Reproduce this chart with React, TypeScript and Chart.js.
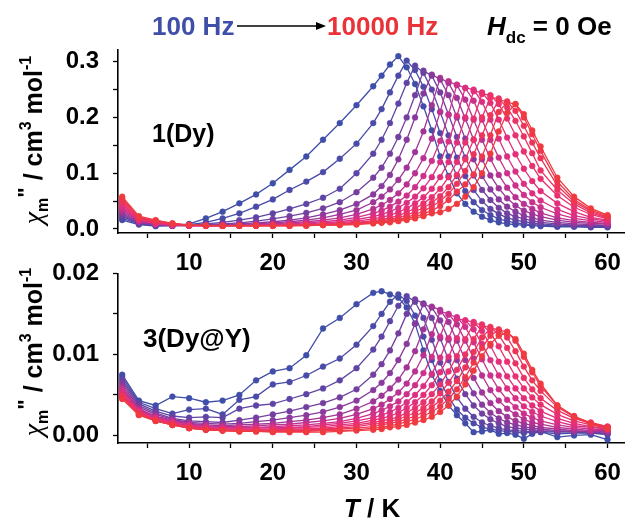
import React, { useEffect, useRef } from "react";
import { Chart, registerables } from "chart.js";

Chart.register(...registerables);

// Temperature grid (K)
const temperatures = [
  2, 4, 6, 8, 10, 12, 14, 16, 18, 20, 22, 24, 26, 28, 30, 32,
  33, 34, 35, 36, 37, 38, 39, 40, 41, 42, 43, 44, 45, 46, 47, 48, 49, 50, 51, 52,
  54, 56, 58, 60,
];

// Tick values
const xTicks = [5, 10, 15, 20, 25, 30, 35, 40, 45, 50, 55, 60];
const topYTicks = [0, 0.05, 0.1, 0.15, 0.2, 0.25, 0.3];
const bottomYTicks = [0, 0.005, 0.01, 0.015, 0.02];

// 1(Dy): chi'' (cm3 mol-1), 100 Hz -> 10000 Hz
const dyF01 = [.016,.008,.005,.006,.009,.019,.031,.046,.062,.082,.106,.13,.16,.19,.222,.256,
  .275,.295,.31,.29,.26,.22,.177,.13,.095,.064,.045,.031,.022,.016,.012,.009,.008,.007,.006,.005,
  .004,.004,.003,.003];
const dyF02 = [.019,.009,.006,.006,.008,.012,.019,.028,.04,.053,.07,.085,.102,.126,.153,.19,
  .215,.245,.275,.302,.285,.255,.215,.172,.13,.095,.068,.048,.034,.025,.018,.014,.011,.009,.008,.007,
  .005,.005,.004,.004];
const dyF03 = [.022,.01,.007,.006,.007,.009,.012,.016,.021,.028,.036,.045,.056,.072,.1,.135,
  .16,.19,.225,.262,.293,.28,.25,.21,.168,.128,.095,.07,.05,.036,.027,.02,.016,.013,.011,.009,
  .007,.006,.005,.005];
const dyF04 = [.025,.011,.007,.006,.007,.008,.009,.011,.014,.018,.023,.029,.037,.048,.066,.092,
  .11,.135,.165,.2,.24,.284,.275,.245,.205,.165,.128,.096,.07,.052,.038,.028,.022,.018,.015,.012,
  .009,.007,.006,.006];
const dyF05 = [.028,.012,.008,.006,.006,.007,.008,.009,.011,.013,.016,.02,.026,.034,.045,.062,
  .077,.097,.125,.16,.2,.243,.277,.268,.24,.2,.162,.125,.095,.071,.053,.04,.031,.024,.02,.016,
  .012,.009,.008,.007];
const dyF06 = [.031,.013,.008,.006,.006,.006,.007,.008,.009,.011,.013,.016,.02,.026,.034,.048,
  .058,.071,.088,.11,.138,.175,.222,.271,.262,.235,.198,.16,.125,.096,.073,.055,.042,.033,.027,.022,
  .016,.012,.01,.009];
const dyF07 = [.034,.014,.009,.007,.006,.006,.006,.007,.008,.009,.011,.013,.016,.02,.026,.036,
  .043,.052,.064,.08,.1,.127,.162,.21,.265,.258,.232,.196,.16,.126,.097,.074,.057,.045,.036,.029,
  .02,.015,.012,.01];
const dyF08 = [.037,.015,.009,.007,.006,.006,.006,.006,.007,.008,.009,.011,.013,.016,.021,.028,
  .033,.04,.049,.06,.075,.095,.122,.158,.205,.259,.253,.23,.196,.16,.128,.1,.078,.061,.048,.039,
  .027,.019,.015,.012];
const dyF09 = [.04,.016,.01,.007,.006,.006,.006,.006,.006,.007,.008,.009,.011,.013,.017,.022,
  .026,.031,.038,.047,.058,.073,.093,.12,.157,.203,.253,.25,.228,.196,.162,.13,.103,.081,.064,.051,
  .035,.024,.018,.014];
const dyF10 = [.043,.017,.011,.008,.006,.006,.006,.006,.006,.007,.007,.008,.009,.011,.014,.018,
  .021,.025,.03,.037,.046,.057,.072,.093,.12,.155,.2,.247,.245,.226,.196,.164,.134,.108,.086,.068,
  .046,.031,.021,.016];
const dyF11 = [.046,.018,.012,.008,.007,.006,.006,.006,.006,.006,.007,.007,.008,.01,.012,.015,
  .017,.02,.024,.03,.037,.046,.057,.072,.093,.12,.155,.198,.242,.24,.224,.198,.168,.139,.113,.09,
  .06,.039,.026,.018];
const dyF12 = [.049,.019,.013,.009,.007,.006,.006,.006,.006,.006,.006,.007,.008,.009,.011,.013,
  .015,.017,.02,.025,.031,.038,.047,.059,.075,.097,.125,.16,.2,.236,.234,.218,.194,.166,.136,.105,
  .07,.045,.029,.02];
const dyF13 = [.052,.02,.014,.009,.007,.006,.006,.006,.006,.006,.006,.007,.007,.008,.01,.012,
  .013,.015,.017,.021,.026,.032,.04,.05,.063,.081,.104,.134,.168,.204,.231,.229,.212,.185,.155,.127,
  .078,.049,.032,.021];
const dyF14 = [.055,.021,.015,.01,.007,.006,.006,.006,.006,.006,.006,.006,.007,.008,.009,.011,
  .012,.014,.016,.019,.022,.027,.033,.041,.052,.067,.08,.098,.13,.168,.21,.227,.224,.2,.17,.14,
  .085,.053,.034,.023];
const dyF15 = [.058,.023,.016,.01,.007,.006,.006,.006,.006,.006,.006,.006,.007,.007,.008,.01,
  .011,.012,.014,.016,.019,.023,.028,.03,.036,.045,.058,.075,.1,.135,.175,.208,.224,.206,.177,.148,
  .092,.058,.037,.025];

// 3(Dy@Y): chi'' (cm3 mol-1), 100 Hz -> 10000 Hz
const dyyF01 = [.0075,.0043,.0037,.0048,.0046,.0041,.0043,.005,.0068,.0079,.0083,.0099,.0132,.0145,.0162,.0176,
  .0178,.0174,.017,.0158,.0138,.0105,.0075,.0055,.0037,.0025,.0015,.0004,.0005,.0007,.0002,.0003,.0001,-.0004,.0002,.0005,
  -.0002,0,.0001,-.0005];
const dyyF02 = [.0072,.0041,.0033,.0027,.0032,.0033,.0026,.0044,.0048,.0063,.0066,.0074,.0085,.0095,.0112,.0135,
  .015,.0165,.0174,.0166,.0148,.0122,.0093,.0067,.0047,.0032,.0022,.0015,.001,.0008,.0006,.0005,.0004,.0003,.0004,.0004,
  .0002,.0003,.0003,.0001];
const dyyF03 = [.0069,.0039,.003,.0024,.0022,.0023,.0022,.0033,.0037,.0039,.0045,.0051,.0058,.0068,.0083,.0106,
  .0122,.0141,.016,.0172,.0165,.0145,.0118,.009,.0066,.0047,.0033,.0023,.0016,.0012,.0009,.0007,.0006,.0005,.0005,.0005,
  .0004,.0004,.0003,.0002];
const dyyF04 = [.0066,.0037,.0028,.0021,.0018,.0017,.0016,.0019,.0022,.0026,.003,.0035,.004,.0047,.0057,.0075,
  .0088,.0105,.0126,.015,.0168,.0163,.0145,.012,.0093,.007,.0051,.0037,.0027,.002,.0015,.0011,.0009,.0008,.0007,.0006,
  .0005,.0005,.0004,.0003];
const dyyF05 = [.0063,.0035,.0026,.002,.0016,.0015,.0014,.0015,.0017,.0019,.0022,.0025,.0029,.0035,.0043,.0056,
  .0065,.0077,.0093,.0113,.0138,.0162,.0158,.0142,.0118,.0093,.007,.0052,.0038,.0028,.0021,.0016,.0013,.0011,.0009,.0008,
  .0006,.0005,.0005,.0004];
const dyyF06 = [.006,.0033,.0024,.0019,.0015,.0013,.0012,.0013,.0014,.0015,.0017,.0019,.0022,.0026,.0033,.0042,
  .0049,.0058,.0069,.0084,.0104,.0131,.0159,.0155,.014,.0117,.0093,.0071,.0053,.004,.003,.0023,.0018,.0015,.0012,.001,
  .0008,.0006,.0005,.0005];
const dyyF07 = [.0058,.0032,.0023,.0018,.0014,.0012,.0011,.0011,.0012,.0013,.0014,.0016,.0018,.0021,.0026,.0033,
  .0038,.0045,.0053,.0064,.0079,.0099,.0125,.0153,.015,.0137,.0117,.0095,.0074,.0056,.0043,.0033,.0026,.002,.0016,.0014,
  .001,.0008,.0006,.0006];
const dyyF08 = [.0056,.0031,.0022,.0017,.0013,.0011,.001,.001,.001,.0011,.0012,.0013,.0015,.0017,.0021,.0027,
  .0031,.0036,.0042,.0051,.0062,.0077,.0097,.0122,.0149,.0146,.0134,.0115,.0094,.0074,.0057,.0044,.0035,.0027,.0022,.0018,
  .0013,.001,.0008,.0007];
const dyyF09 = [.0054,.003,.0021,.0016,.0012,.001,.0009,.0009,.0009,.001,.001,.0011,.0013,.0015,.0018,.0022,
  .0025,.0029,.0034,.0041,.005,.0061,.0076,.0096,.012,.0144,.0142,.0131,.0113,.0093,.0074,.0058,.0046,.0036,.0029,.0024,
  .0017,.0012,.001,.0008];
const dyyF10 = [.0052,.0029,.002,.0015,.0011,.0009,.0008,.0008,.0008,.0008,.0009,.001,.0011,.0013,.0015,.0019,
  .0021,.0024,.0028,.0034,.0041,.005,.0062,.0078,.0097,.012,.0142,.014,.0129,.0111,.0091,.0073,.0058,.0046,.0037,.003,
  .0021,.0015,.0011,.0009];
const dyyF11 = [.005,.0028,.0019,.0014,.001,.0008,.0007,.0007,.0007,.0007,.0008,.0008,.0009,.0011,.0013,.0016,
  .0018,.002,.0023,.0028,.0034,.0041,.0051,.0063,.0079,.0098,.0119,.0138,.0137,.0127,.011,.0091,.0073,.0058,.0047,.0038,
  .0026,.0018,.0013,.001];
const dyyF12 = [.0049,.0027,.0019,.0014,.001,.0008,.0007,.0006,.0006,.0006,.0007,.0007,.0008,.0009,.0011,.0014,
  .0015,.0017,.002,.0024,.0028,.0034,.0042,.0052,.0065,.0081,.01,.0119,.0135,.0134,.0124,.0108,.0089,.0071,.0057,.0046,
  .0031,.0021,.0015,.0011];
const dyyF13 = [.0048,.0026,.0018,.0013,.0009,.0007,.0006,.0006,.0006,.0005,.0006,.0006,.0007,.0008,.0009,.0011,
  .0013,.0015,.0017,.002,.0024,.0029,.0035,.0043,.0054,.0067,.0084,.0103,.0121,.0132,.0131,.0121,.0104,.0085,.0068,.0055,
  .0035,.0023,.0016,.0011];
const dyyF14 = [.0047,.0026,.0018,.0013,.0009,.0007,.0006,.0005,.0005,.0005,.0005,.0005,.0006,.0006,.0007,.0009,
  .001,.0012,.0014,.0017,.002,.0024,.0029,.0036,.0045,.0057,.0072,.009,.0108,.0123,.013,.0128,.0117,.0097,.0078,.0061,
  .0037,.0024,.0015,.001];
const dyyF15 = [.0045,.0025,.0018,.0013,.0009,.0007,.0006,.0005,.0005,.0004,.0004,.0004,.0004,.0005,.0006,.0007,
  .0008,.001,.0011,.0013,.0016,.0019,.0023,.0029,.0037,.0048,.0063,.008,.0098,.0113,.0123,.0127,.0119,.0101,.0081,.0064,
  .0037,.0023,.0014,.0008];

const dySeries = [dyF01, dyF02, dyF03, dyF04, dyF05, dyF06, dyF07, dyF08, dyF09, dyF10, dyF11, dyF12, dyF13, dyF14, dyF15];
const dyySeries = [dyyF01, dyyF02, dyyF03, dyyF04, dyyF05, dyyF06, dyyF07, dyyF08, dyyF09, dyyF10, dyyF11, dyyF12, dyyF13, dyyF14, dyyF15];

const palette = [
  "#3f4ea8", "#4a4aa8", "#5e45a5", "#7340a0", "#883a9d", "#a03598", "#b83292", "#cc318b",
  "#da3084", "#e32f7b", "#e83170", "#eb3365", "#ed3559", "#ee374d", "#ef3a40",
];

const FONT = '"Liberation Sans", Arial, sans-serif';
const W = 632;

type Run = { t: string; font: string; dy?: number; color?: string };

function drawRuns(ctx: CanvasRenderingContext2D, runs: Run[], x: number, y: number, align: "left" | "center") {
  let total = 0;
  for (const r of runs) {
    ctx.font = r.font;
    total += ctx.measureText(r.t).width;
  }
  let cx = align === "center" ? x - total / 2 : x;
  ctx.textAlign = "left";
  ctx.textBaseline = "alphabetic";
  for (const r of runs) {
    ctx.font = r.font;
    ctx.fillStyle = r.color || "#000";
    ctx.fillText(r.t, cx, y + (r.dy || 0));
    cx += ctx.measureText(r.t).width;
  }
  return cx;
}

function yTitleRuns(): Run[] {
  const b = `bold 25px ${FONT}`;
  const s = `bold 16px ${FONT}`;
  return [
    { t: "χ", font: `italic 28px "Liberation Serif", "DejaVu Serif", serif` },
    { t: "m", font: s, dy: 6 },
    { t: "\"", font: `bold 22px ${FONT}`, dy: -9 },
    { t: " / cm", font: b },
    { t: "3", font: s, dy: -11 },
    { t: " mol", font: b },
    { t: "-1", font: s, dy: -11 },
  ];
}

function drawYTitle(ctx: CanvasRenderingContext2D, cx: number, cy: number) {
  ctx.save();
  ctx.translate(cx, cy);
  ctx.rotate(-Math.PI / 2);
  drawRuns(ctx, yTitleRuns(), 0, 0, "center");
  ctx.restore();
}

function makeChart(
  canvas: HTMLCanvasElement,
  series: number[][],
  yMin: number,
  yMax: number,
  yTicks: number[],
  decimals: number,
  padTop: number,
  xAxisHeight: number,
  decorate: (ctx: CanvasRenderingContext2D) => void
) {
  const datasets = series.map((vals, i) => ({
    label: `f${i + 1}`,
    data: temperatures.map((t, k) => ({ x: t, y: vals[k] })),
    borderColor: palette[i],
    backgroundColor: palette[i],
    pointBackgroundColor: palette[i],
    pointBorderColor: palette[i],
    borderWidth: 1.3,
    pointRadius: 2.9,
    pointBorderWidth: 0.5,
    pointHoverRadius: 0,
    tension: 0,
    order: series.length - i,
  }));

  const tickFont = { family: FONT, size: 24, weight: "bold" as const };

  return new Chart(canvas, {
    type: "line",
    data: { datasets },
    options: {
      animation: false,
      responsive: false,
      events: [],
      layout: { padding: { top: padTop, left: 0, right: 0, bottom: 0 } },
      plugins: { legend: { display: false }, tooltip: { enabled: false } },
      scales: {
        x: {
          type: "linear",
          min: 1.5,
          max: 62,
          afterBuildTicks: (ax: any) => {
            ax.ticks = xTicks.map((v) => ({ value: v }));
          },
          afterFit: (ax: any) => {
            ax.height = xAxisHeight;
          },
          ticks: {
            autoSkip: false,
            maxRotation: 0,
            padding: 11,
            color: "#000",
            font: tickFont,
            callback: (v: any) => (Number(v) % 10 === 0 ? String(v) : ""),
          },
          grid: { drawOnChartArea: false, tickLength: 5, tickColor: "#000", tickWidth: 1.3 },
          border: { color: "#000", width: 1.6 },
        },
        y: {
          type: "linear",
          min: yMin,
          max: yMax,
          afterBuildTicks: (ax: any) => {
            ax.ticks = yTicks.map((v) => ({ value: v }));
          },
          afterFit: (ax: any) => {
            ax.width = 118;
          },
          ticks: {
            autoSkip: false,
            padding: 14,
            color: "#000",
            font: tickFont,
            callback: (v: any) => {
              const n = Number(v);
              const scaled = n * Math.pow(10, decimals);
              const major = Math.abs(scaled - Math.round(scaled)) < 1e-6;
              return major ? n.toFixed(decimals) : "";
            },
          },
          grid: { drawOnChartArea: false, tickLength: 5, tickColor: "#000", tickWidth: 1.3 },
          border: { color: "#000", width: 1.6 },
        },
      },
    },
    plugins: [
      {
        id: "decor",
        afterDraw: (chart: any) => {
          const ctx = chart.ctx as CanvasRenderingContext2D;
          ctx.save();
          decorate(ctx);
          ctx.restore();
        },
      },
    ],
  } as any);
}

export default function App() {
  const topRef = useRef<HTMLCanvasElement | null>(null);
  const botRef = useRef<HTMLCanvasElement | null>(null);

  useEffect(() => {
    if (!topRef.current || !botRef.current) return;
    const top = makeChart(topRef.current, dySeries, -0.0072, 0.321, topYTicks, 1, 50, 52, (ctx) => {
      const hb = `bold 26px ${FONT}`;
      drawRuns(ctx, [{ t: "100 Hz", font: hb, color: "#3f4ea8" }], 152, 35, "left");
      ctx.strokeStyle = "#000";
      ctx.lineWidth = 1.5;
      ctx.beginPath();
      ctx.moveTo(237, 26);
      ctx.lineTo(318, 26);
      ctx.stroke();
      ctx.fillStyle = "#000";
      ctx.beginPath();
      ctx.moveTo(326, 26);
      ctx.lineTo(316, 22);
      ctx.lineTo(316, 30);
      ctx.closePath();
      ctx.fill();
      drawRuns(ctx, [{ t: "10000 Hz", font: hb, color: "#ea3339" }], 327, 35, "left");
      drawRuns(
        ctx,
        [
          { t: "H", font: `italic bold 26px ${FONT}` },
          { t: "dc", font: `bold 17px ${FONT}`, dy: 8 },
          { t: " = 0 Oe", font: hb },
        ],
        487,
        35,
        "left"
      );
      drawRuns(ctx, [{ t: "1(Dy)", font: `bold 25px ${FONT}` }], 152, 142, "left");
      drawYTitle(ctx, 42, 140);
    });
    const bot = makeChart(botRef.current, dyySeries, -0.00093, 0.02, bottomYTicks, 2, 17, 80, (ctx) => {
      drawRuns(ctx, [{ t: "3(Dy@Y)", font: `bold 26px ${FONT}` }], 143, 102, "left");
      drawYTitle(ctx, 42, 107);
      drawRuns(
        ctx,
        [
          { t: "T", font: `italic bold 26px ${FONT}` },
          { t: " / K", font: `bold 26px ${FONT}` },
        ],
        372,
        272,
        "center"
      );
    });
    return () => {
      top.destroy();
      bot.destroy();
    };
  }, []);

  return (
    <div style={{ position: "fixed", left: 0, top: 0, width: W, height: 523, background: "#fff", overflow: "hidden" }}>
      <canvas ref={topRef} width={W} height={285} style={{ position: "absolute", left: 0, top: 0, width: W, height: 285 }} />
      <canvas ref={botRef} width={W} height={278} style={{ position: "absolute", left: 0, top: 245, width: W, height: 278 }} />
    </div>
  );
}
